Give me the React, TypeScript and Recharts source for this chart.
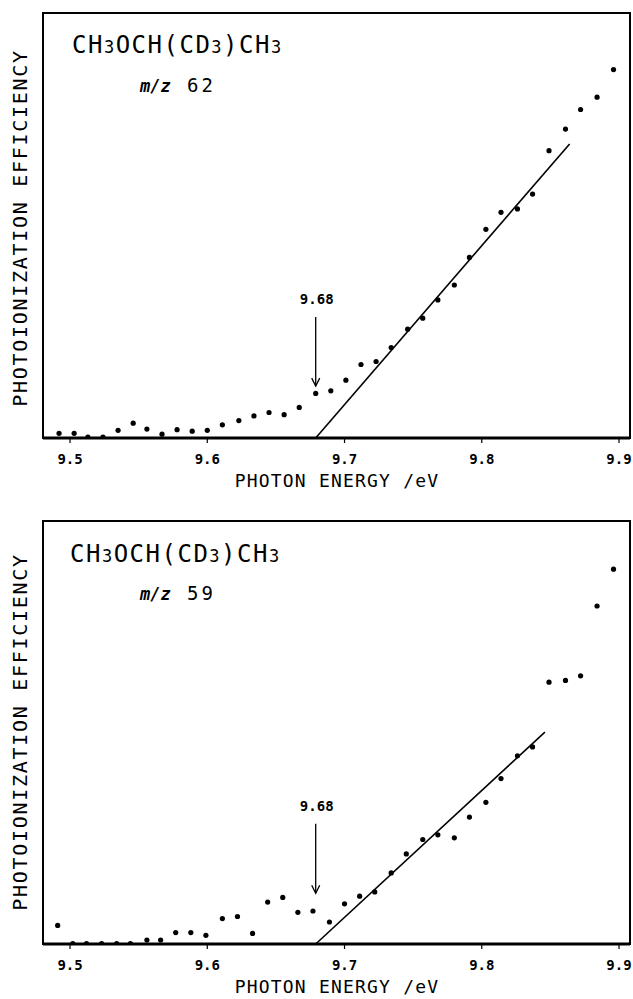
import React from "react";
import {
  ComposedChart,
  XAxis,
  YAxis,
  Scatter,
  ReferenceLine,
  ReferenceArea,
} from "recharts";

// ---------- data ----------
const xTicks = [9.5, 9.6, 9.7, 9.8, 9.9];
const xDomain = [9.4803, 9.908];
const yDomain = [0, 100];

const energyTop = [
  9.492, 9.503, 9.513, 9.524, 9.535, 9.546, 9.556, 9.567, 9.578, 9.589, 9.6,
  9.611, 9.623, 9.634, 9.645, 9.656, 9.667, 9.679, 9.69, 9.701, 9.712, 9.723,
  9.734, 9.746, 9.757, 9.768, 9.78, 9.791, 9.803, 9.814, 9.826, 9.837, 9.849,
  9.861, 9.872, 9.884, 9.896,
];
const efficiencyTop = [
  1.1, 1.1, 0.2, 0.2, 1.8, 3.5, 2.1, 0.9, 1.95, 1.6, 1.8, 3.1, 4.1, 5.2, 6.0,
  5.5, 7.2, 10.5, 11.1, 13.6, 17.3, 18.0, 21.3, 25.6, 28.2, 32.5, 36.0, 42.5,
  49.1, 53.1, 53.9, 57.4, 67.6, 72.7, 77.3, 80.2, 86.7,
];

const energyBottom = [
  9.491, 9.502, 9.512, 9.523, 9.534, 9.544, 9.556, 9.566, 9.577, 9.588, 9.599,
  9.611, 9.622, 9.633, 9.644, 9.655, 9.666, 9.677, 9.689, 9.7, 9.711, 9.722,
  9.734, 9.745, 9.757, 9.768, 9.78, 9.791, 9.803, 9.814, 9.826, 9.837, 9.849,
  9.861, 9.872, 9.884, 9.896,
];
const efficiencyBottom = [
  4.4, 0.1, 0.1, 0.1, 0.1, 0.1, 0.95, 0.95, 2.7, 2.7, 2.05, 6.0, 6.5, 2.5, 9.9,
  11.0, 7.5, 7.8, 5.2, 9.5, 11.3, 12.3, 16.8, 21.3, 24.7, 25.8, 25.1, 30.0,
  33.5, 39.1, 44.5, 46.6, 61.9, 62.3, 63.4, 79.9, 88.6,
];

const fitEnergyTop = [9.679, 9.864];
const fitEfficiencyTop = [0, 69.2];
const fitEnergyBottom = [9.679, 9.846];
const fitEfficiencyBottom = [0, 50.1];

const onsetEnergy = 9.679;
const onsetLabel = "9.68";
const arrowTop = [28.5, 12.2];
const arrowBottom = [28.4, 12.0];

const compound = "CH3OCH(CD3)CH3";
const massTop = "62";
const massBottom = "59";
const xLabel = "PHOTON ENERGY /eV";
const yLabel = "PHOTOIONIZATION EFFICIENCY";

const FONT = "'DejaVu Sans Mono', monospace";

const makePoints = (xs: number[], ys: number[]) =>
  xs.map((x, i) => ({ x, y: ys[i] }));

const Dot = (p: any) => <circle cx={p.cx} cy={p.cy} r={2.6} fill="#000" />;

const ArrowShape = (label: string) => (p: any) => {
  const { x1, y1, x2, y2 } = p;
  const tipY = Math.max(y1, y2);
  const topY = Math.min(y1, y2);
  return (
    <g>
      <line x1={x1} y1={topY} x2={x2} y2={tipY} stroke="#000" strokeWidth={1.3} />
      <path
        d={`M${x2 - 4},${tipY - 8} L${x2},${tipY} L${x2 + 4},${tipY - 8}`}
        fill="none"
        stroke="#000"
        strokeWidth={1.3}
      />
      <text
        x={x1 + 1}
        y={topY - 13}
        textAnchor="middle"
        fontFamily={FONT}
        fontWeight="bold"
        fontSize={14}
        fill="#000"
      >
        {label}
      </text>
    </g>
  );
};

const LineShape = (p: any) => (
  <line x1={p.x1} y1={p.y1} x2={p.x2} y2={p.y2} stroke="#000" strokeWidth={1.6} />
);

type PanelProps = {
  energy: number[];
  eff: number[];
  fitE: number[];
  fitY: number[];
  arrow: number[];
  height: number;
  margin: { top: number; right: number; left: number; bottom: number };
};

const Panel = ({ energy, eff, fitE, fitY, arrow, height, margin }: PanelProps) => {
  const pts = makePoints(energy, eff);
  return (
    <ComposedChart width={633} height={height} margin={margin}>
      <XAxis
        dataKey="x"
        type="number"
        domain={xDomain}
        ticks={xTicks}
        allowDataOverflow
        tickFormatter={(v: number) => v.toFixed(1)}
        tick={{ fill: "#000", fontSize: 14, fontWeight: "bold", fontFamily: FONT }}
        tickLine={{ stroke: "#000", strokeWidth: 1.2 }}
        tickSize={5}
        tickMargin={11}
        axisLine={{ stroke: "#000", strokeWidth: 3 }}
        height={30}
      />
      <YAxis
        dataKey="y"
        type="number"
        domain={yDomain}
        allowDataOverflow
        width={0}
        tick={false}
        tickLine={false}
        axisLine={{ stroke: "#000", strokeWidth: 3 }}
      />
      <ReferenceArea
        x1={xDomain[0]}
        x2={xDomain[1]}
        y1={yDomain[0]}
        y2={yDomain[1]}
        fill="none"
        stroke="#000"
        strokeWidth={2}
        ifOverflow="visible"
      />
      <ReferenceLine
        segment={[
          { x: fitE[0], y: fitY[0] },
          { x: fitE[1], y: fitY[1] },
        ]}
        ifOverflow="visible"
        shape={LineShape}
      />
      <ReferenceLine
        segment={[
          { x: onsetEnergy, y: arrow[0] },
          { x: onsetEnergy, y: arrow[1] },
        ]}
        ifOverflow="visible"
        shape={ArrowShape(onsetLabel)}
      />
      <Scatter data={pts} shape={Dot} fill="#000" isAnimationActive={false} />
    </ComposedChart>
  );
};

const Title = ({ x, y }: { x: number; y: number }) => {
  const parts = compound.split(/(3)/).filter((s) => s.length > 0);
  return (
    <text x={x} y={y} fontFamily={FONT} fontSize={24} fill="#000" letterSpacing={1.5}>
      {parts.map((s, i) =>
        s === "3" ? (
          <tspan key={i} fontSize={17}>
            {s}
          </tspan>
        ) : (
          <tspan key={i}>{s}</tspan>
        )
      )}
    </text>
  );
};

const Mass = ({ y, value }: { y: number; value: string }) => (
  <g>
    <text x={140} y={y} fontFamily={FONT} fontSize={17} fontWeight="bold" fontStyle="italic" fill="#000">
      m/z
    </text>
    <text x={187} y={y} fontFamily={FONT} fontSize={19} fill="#000" letterSpacing={3}>
      {value}
    </text>
  </g>
);

const YLab = ({ cy }: { cy: number }) => (
  <text
    x={20}
    y={cy}
    transform={`rotate(-90, 20, ${cy})`}
    textAnchor="middle"
    dominantBaseline="central"
    fontFamily={FONT}
    fontSize={20}
    letterSpacing={1.7}
    fill="#000"
  >
    {yLabel}
  </text>
);

const XLab = ({ y }: { y: number }) => (
  <text x={337} y={y} textAnchor="middle" fontFamily={FONT} fontSize={18} letterSpacing={1.2} fill="#000">
    {xLabel}
  </text>
);

export default function App() {
  return (
    <div
      style={{
        position: "absolute",
        left: 0,
        top: 0,
        width: 633,
        height: 999,
        background: "#fff",
        overflow: "hidden",
      }}
    >
      <div style={{ position: "absolute", left: 0, top: 0 }}>
        <Panel
          energy={energyTop}
          eff={efficiencyTop}
          fitE={fitEnergyTop}
          fitY={fitEfficiencyTop}
          arrow={arrowTop}
          height={500}
          margin={{ top: 13, right: 3, left: 43, bottom: 32 }}
        />
      </div>
      <div style={{ position: "absolute", left: 0, top: 500 }}>
        <Panel
          energy={energyBottom}
          eff={efficiencyBottom}
          fitE={fitEnergyBottom}
          fitY={fitEfficiencyBottom}
          arrow={arrowBottom}
          height={499}
          margin={{ top: 21, right: 3, left: 43, bottom: 25 }}
        />
      </div>
      <svg
        width={633}
        height={999}
        style={{ position: "absolute", left: 0, top: 0, pointerEvents: "none" }}
      >
        <Title x={72} y={53} />
        <Mass y={92} value={massTop} />
        <YLab cy={228} />
        <XLab y={487} />
        <Title x={70} y={562} />
        <Mass y={600} value={massBottom} />
        <YLab cy={732} />
        <XLab y={993} />
      </svg>
    </div>
  );
}
